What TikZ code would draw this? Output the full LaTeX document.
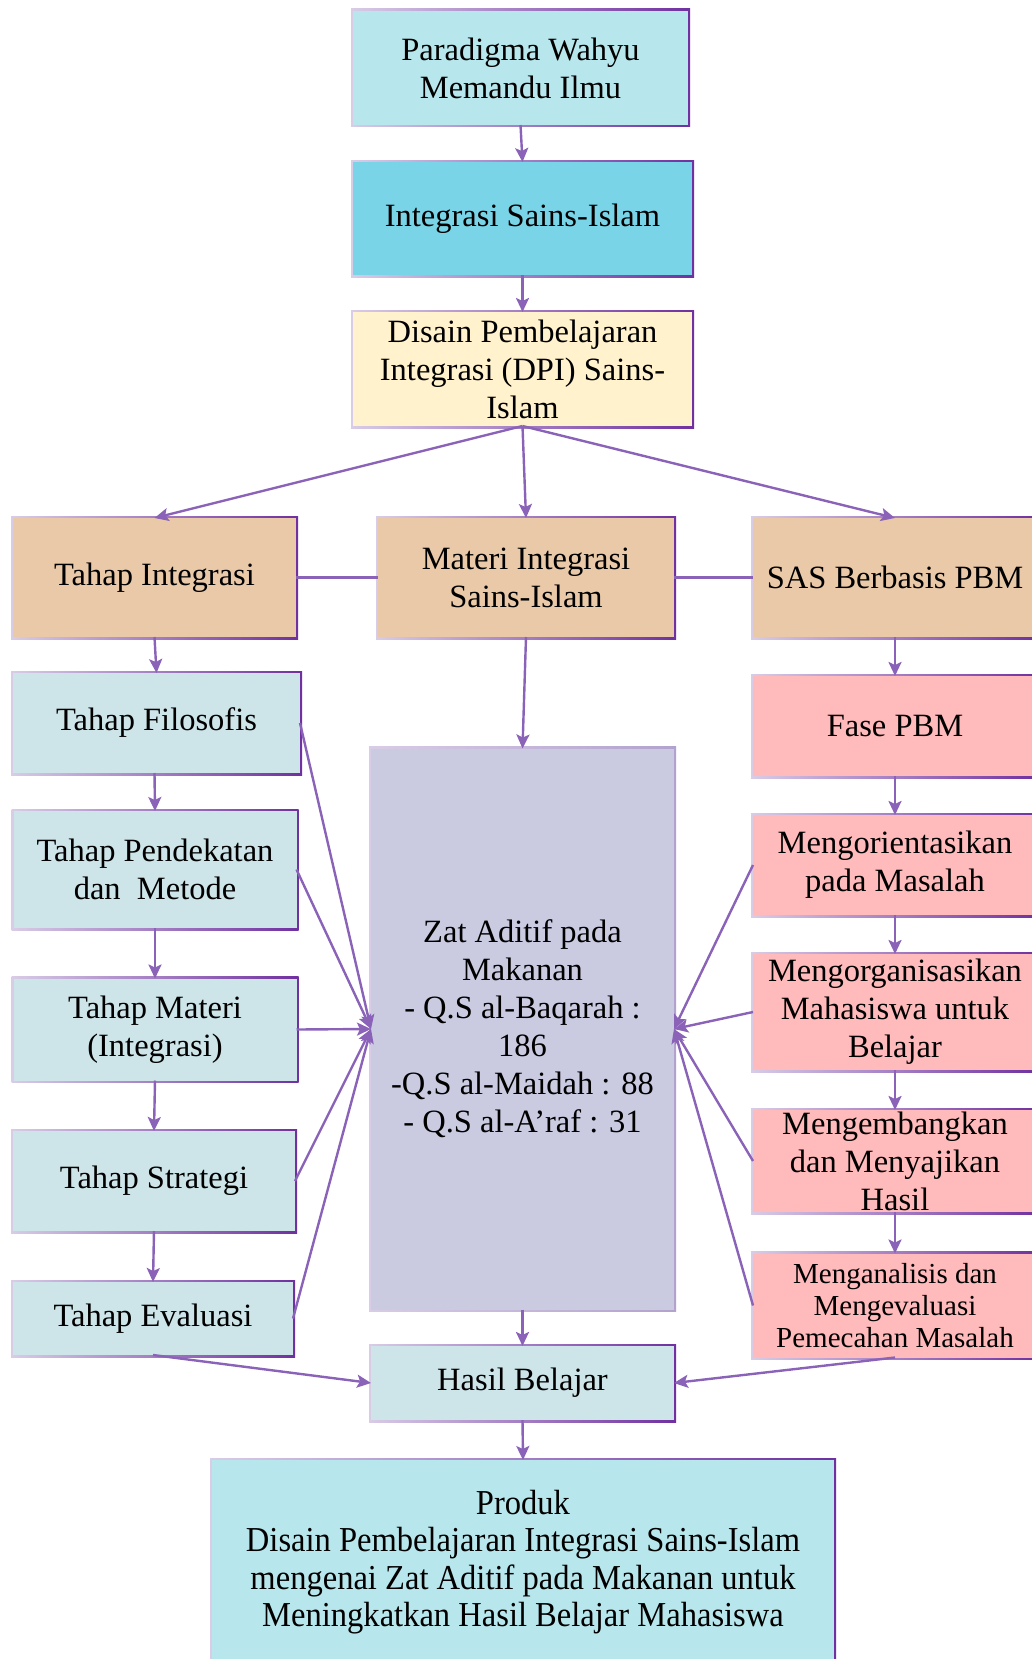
\documentclass[tikz,border=0pt]{standalone}
\usepackage{fontspec}
\setmainfont{Liberation Serif}
\usetikzlibrary{arrows.meta,backgrounds}
\definecolor{cPar}{HTML}{B7E7EC}
\definecolor{cIsl}{HTML}{79D4E7}
\definecolor{cDpi}{HTML}{FFF2CD}
\definecolor{cTan}{HTML}{E9C9A7}
\definecolor{cTb}{HTML}{CDE5E9}
\definecolor{cPink}{HTML}{FFBABB}
\definecolor{cZat}{HTML}{CACBE1}
\definecolor{bLight}{HTML}{D8CCE6}
\definecolor{bDark}{HTML}{7030A0}
\definecolor{bZat}{HTML}{B2A2CE}
\definecolor{cArr}{HTML}{8A62B8}
\begin{document}
\begin{tikzpicture}[x=1pt,y=-1pt,
  bx/.style={rectangle,inner sep=0pt,outer sep=0pt,align=center,
    font=\fontsize{32.5}{38}\selectfont},
  sm/.style={font=\fontsize{29}{32}\selectfont},
  ar/.style={draw=cArr,line width=2.4pt,-{Stealth[length=14pt,width=13pt,inset=3pt]}},
  ln/.style={draw=cArr,line width=2.4pt}]
\useasboundingbox (0,0) rectangle (1031,1659);
% top chain
\node[bx,fill=cPar,minimum width=335pt,minimum height=114pt] (par) at (520.5,68) {Paradigma Wahyu\\Memandu Ilmu};
\node[bx,fill=cIsl,minimum width=339pt,minimum height=113pt] (isl) at (522.5,218.5) {Integrasi Sains-Islam};
\node[bx,fill=cDpi,minimum width=339pt,minimum height=114pt] (dpi) at (522.5,369) {Disain Pembelajaran\\Integrasi (DPI) Sains-\\Islam};
% row
\node[bx,fill=cTan,minimum width=283pt,minimum height=119pt] (ti) at (154.5,577.5) {Tahap Integrasi};
\node[bx,fill=cTan,minimum width=296pt,minimum height=119pt] (mi) at (526,577.5) {Materi Integrasi\\Sains-Islam};
\node[bx,fill=cTan,minimum width=284pt,minimum height=119pt] (sas) at (895,577.5) {SAS Berbasis PBM};
% left column
\node[bx,fill=cTb,minimum width=287pt,minimum height=100pt] (tf) at (156.5,723) {Tahap Filosofis};
\node[bx,fill=cTb,minimum width=283pt,minimum height=117pt] (tp) at (155,869.5) {Tahap Pendekatan\\dan\ \ Metode};
\node[bx,fill=cTb,minimum width=283pt,minimum height=102pt] (tm) at (155,1029.5) {Tahap Materi\\(Integrasi)};
\node[bx,fill=cTb,minimum width=282pt,minimum height=100pt] (ts) at (154,1181) {Tahap Strategi};
\node[bx,fill=cTb,minimum width=280pt,minimum height=73pt] (te) at (153,1318.5) {Tahap Evaluasi};
% center
\node[bx,fill=cZat,minimum width=303pt,minimum height=561pt] (zat) at (522.5,1029) {Zat Aditif pada\\Makanan\\- Q.S al-Baqarah :\\186\\-Q.S al-Maidah : 88\\- Q.S al-A’raf : 31};
\node[bx,fill=cTb,minimum width=303pt,minimum height=74pt] (hb) at (522.5,1383) {Hasil Belajar};
\node[bx,fill=cPar,minimum width=622pt,minimum height=204pt,font=\fontsize{35}{37.5}\selectfont\addfontfeature{FakeStretch=0.93}] (prod) at (523,1562) {Produk\\Disain Pembelajaran Integrasi Sains-Islam\\mengenai Zat Aditif pada Makanan untuk\\Meningkatkan Hasil Belajar Mahasiswa};
% right column
\node[bx,fill=cPink,minimum width=284pt,minimum height=100pt] (fase) at (895,726) {Fase PBM};
\node[bx,fill=cPink,minimum width=284pt,minimum height=100pt] (mor) at (895,865) {Mengorientasikan\\pada Masalah};
\node[bx,fill=cPink,minimum width=284pt,minimum height=116pt] (mog) at (895,1012) {Mengorganisasikan\\Mahasiswa untuk\\Belajar};
\node[bx,fill=cPink,minimum width=284pt,minimum height=102pt] (mkb) at (895,1161) {Mengembangkan\\dan Menyajikan\\Hasil};
\node[bx,fill=cPink,minimum width=284pt,minimum height=104pt,sm] (man) at (895,1305.5) {Menganalisis dan\\Mengevaluasi\\Pemecahan Masalah};
% gradient borders
\begin{scope}[on background layer]
\foreach \n in {par,isl,dpi,ti,mi,sas,tf,tp,tm,ts,te,hb,prod,fase,mor,mog,mkb,man}
  \shade[left color=bLight,right color=bDark] ([shift={(-2,-2)}]\n.north west) rectangle ([shift={(2,2)}]\n.south east);
\shade[left color=bLight,right color=bZat] ([shift={(-2,-2)}]zat.north west) rectangle ([shift={(2,2)}]zat.south east);
\end{scope}
% connectors
\draw[ar] (par.south) -- (isl.north);
\draw[ar] (isl.south) -- (dpi.north);
\draw[ar] (dpi.south) -- (ti.north);
\draw[ar] (dpi.south) -- (mi.north);
\draw[ar] (dpi.south) -- (sas.north);
\draw[ln] (ti.east) -- (mi.west);
\draw[ln] (mi.east) -- (sas.west);
\draw[ar] (ti.south) -- (tf.north);
\draw[ar] (tf.south -| ti.south) -- (tp.north);
\draw[ar] (tp.south) -- (tm.north);
\draw[ar] (tm.south) -- (ts.north);
\draw[ar] (ts.south) -- (te.north);
\draw[ar] (mi.south) -- (zat.north);
\draw[ar] (sas.south) -- (fase.north);
\draw[ar] (fase.south) -- (mor.north);
\draw[ar] (mor.south) -- (mog.north);
\draw[ar] (mog.south) -- (mkb.north);
\draw[ar] (mkb.south) -- (man.north);
\foreach \n in {tf,tp,tm,ts,te} \draw[ar] (\n.east) -- (zat.west);
\foreach \n in {mor,mog,mkb,man} \draw[ar] (\n.west) -- (zat.east);
\draw[ar] (zat.south) -- (hb.north);
\draw[ar] (te.south) -- (hb.west);
\draw[ar] (man.south) -- (hb.east);
\draw[ar] (hb.south) -- (prod.north);
\end{tikzpicture}
\end{document}
